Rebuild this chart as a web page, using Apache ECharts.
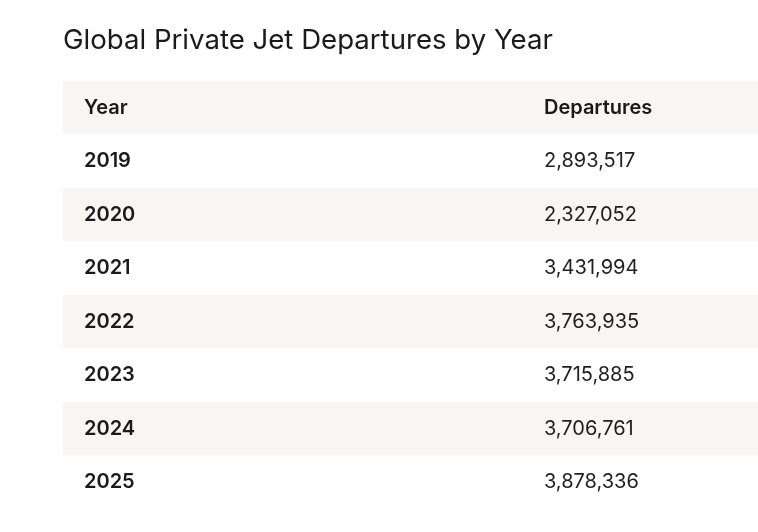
<!DOCTYPE html>
<html>
<head>
<meta charset="utf-8">
<script src="https://cdn.jsdelivr.net/npm/echarts@6/dist/echarts.min.js"></script>
<style>
  html, body { margin: 0; padding: 0; background: #fff; }
  #main { width: 758px; height: 532px; }
</style>
</head>
<body>
<div id="main"></div>
<script>
// table data
var headers = ['Year', 'Departures'];
var years = ['2019', '2020', '2021', '2022', '2023', '2024', '2025'];
var departures = [2893517, 2327052, 3431994, 3763935, 3715885, 3706761, 3878336];

var rows = [headers[0]].concat(years);
var valueCol = 69.2; // x position of second column on a 0-100 axis

function fmt(n) {
    return n.toString().replace(/\B(?=(\d{3})+(?!\d))/g, ',');
}

var cells = [{ value: [valueCol, headers[0]], text: headers[1], head: true }];
years.forEach(function (y, i) {
    cells.push({ value: [valueCol, y], text: fmt(departures[i]) });
});

var myChart = echarts.init(document.getElementById('main'));
myChart.setOption({
    animation: false,
    backgroundColor: '#ffffff',
    textStyle: { fontFamily: 'Inter' },
    title: {
        text: 'Global Private Jet Departures by Year',
        left: 63,
        top: 27,
        padding: 0,
        textStyle: { fontFamily: 'Inter', fontSize: 27.6, fontWeight: 'normal', color: '#1a1a1a' }
    },
    grid: { left: 63, right: 0, top: 81, bottom: 23 },
    xAxis: {
        type: 'value', min: 0, max: 100,
        show: false
    },
    yAxis: {
        type: 'category',
        data: rows,
        inverse: true,
        axisLine: { show: false },
        axisTick: { show: false },
        axisLabel: {
            inside: true,
            interval: 0,
            margin: 21,
            align: 'left',
            fontFamily: 'Inter',
            fontSize: 20,
            fontWeight: 600,
            color: '#1a1a1a'
        },
        splitLine: { show: false },
        splitArea: {
            show: true,
            interval: 0,
            areaStyle: { color: ['#f7f6f3', '#ffffff'] }
        }
    },
    series: [{
        type: 'scatter',
        symbolSize: 0,
        itemStyle: { opacity: 1 },
        data: cells,
        label: {
            show: true,
            position: 'right',
            distance: 0,
            formatter: function (p) {
                return p.data.head ? '{h|' + p.data.text + '}' : '{v|' + p.data.text + '}';
            },
            rich: {
                h: { fontFamily: 'Inter', fontSize: 20, fontWeight: 600, color: '#1a1a1a' },
                v: { fontFamily: 'Inter', fontSize: 20, fontWeight: 'normal', color: '#1f1f1f' }
            }
        }
    }]
});
</script>
</body>
</html>
